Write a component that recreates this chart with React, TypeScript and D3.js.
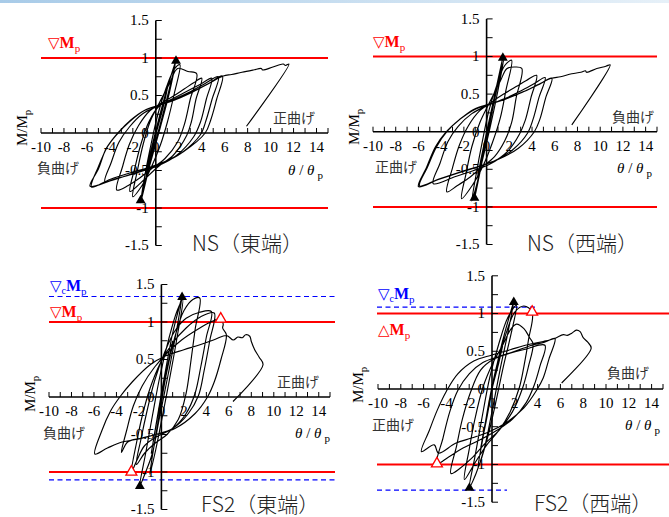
import React from 'react';
import * as d3 from 'd3';

type Pt = [number, number];

// ---------- data (θ/θp , M/Mp) ----------
const xTickLabels = [-10, -8, -6, -4, -2, 0, 2, 4, 6, 8, 10, 12, 14];
const yTickLabels = [1.5, 1, 0.5, 0, -0.5, -1, -1.5];

const nsEastLoop: Pt[] = [
  [0, 0], [0.5, 0.3], [1.0, 0.58],
  [0.6, 0.32], [0, -0.02], [-0.5, -0.32], [-0.9, -0.55],
  [-0.4, -0.22], [0.2, 0.15], [0.9, 0.55], [1.4, 0.8], [1.76, 0.97],
  [1.2, 0.6], [0.5, 0.18], [-0.2, -0.22], [-0.8, -0.6], [-1.32, -0.93],
  [-0.9, -0.62], [-0.2, -0.16], [0.5, 0.3], [1.2, 0.7], [1.7, 0.94],
  [1.2, 0.55], [0.4, 0.08], [-0.4, -0.36], [-1.0, -0.7], [-1.3, -0.9],
  [-0.9, -0.52], [-0.4, -0.14], [0.2, 0.26], [0.9, 0.6], [1.6, 0.85], [2.1, 0.91],
  [1.6, 0.52], [1.0, 0.14], [0.4, -0.16], [-0.4, -0.46], [-1.2, -0.7], [-2.0, -0.85],
  [-1.6, -0.5], [-1.1, -0.15], [-0.5, 0.15], [0.3, 0.4], [1.2, 0.66], [1.9, 0.86], [2.8, 0.82], [3.56, 0.79],
  [3.0, 0.45], [2.5, 0.12], [1.9, -0.12], [0.8, -0.34], [-0.4, -0.48], [-1.4, -0.6], [-2.4, -0.7], [-3.4, -0.76],
  [-2.9, -0.45], [-2.3, -0.15], [-1.5, 0.1], [-0.5, 0.3], [0.5, 0.4], [1.5, 0.49], [2.5, 0.59], [3.3, 0.67], [4.0, 0.73],
  [3.5, 0.45], [3.1, 0.15], [2.7, -0.03], [1.5, -0.3], [0.2, -0.45], [-1.0, -0.62], [-1.7, -0.72], [-2.25, -0.78],
  [-1.8, -0.45], [-1.3, -0.15], [-0.6, 0.15], [0.3, 0.36], [1.5, 0.46], [3.0, 0.58], [4.0, 0.66], [4.87, 0.73],
  [4.4, 0.45], [3.9, 0.15], [3.3, -0.05], [1.8, -0.3], [0.3, -0.43], [-1.0, -0.5], [-2.5, -0.57], [-3.5, -0.61], [-4.43, -0.65],
  [-3.9, -0.4], [-3.2, -0.12], [-2.3, 0.08], [-1.2, 0.25], [0.2, 0.36], [1.6, 0.45], [3.0, 0.55], [4.3, 0.66], [5.45, 0.75],
  [4.9, 0.45], [4.4, 0.18], [3.9, -0.02], [2.2, -0.27], [0.6, -0.4], [-0.8, -0.48], [-2.2, -0.55], [-4.0, -0.64], [-5.73, -0.71],
  [-5.0, -0.48], [-4.3, -0.2], [-3.4, -0.02], [-2.3, 0.15], [-1.0, 0.3], [0.3, 0.37], [1.6, 0.44], [3.2, 0.55], [4.6, 0.66], [5.8, 0.76],
  [5.3, 0.45], [4.8, 0.18], [4.3, 0.0], [2.4, -0.25], [0.8, -0.38], [-0.6, -0.46], [-2.2, -0.53], [-4.0, -0.62], [-5.6, -0.72],
  [-5.0, -0.45], [-4.2, -0.18], [-3.3, 0.0], [-2.2, 0.17], [-1.0, 0.3], [0.3, 0.37], [1.5, 0.43], [3.0, 0.53], [4.5, 0.65], [5.88, 0.76],
  [6.6, 0.78], [7.5, 0.81], [8.5, 0.84], [9.2, 0.86], [9.3, 0.84], [10.2, 0.88], [11.1, 0.92], [11.3, 0.9], [11.6, 0.92],
  [7.9, 0.09],
];

const nsWestLoop: Pt[] = [
  [0, 0], [0.5, 0.32], [0.9, 0.6],
  [0.5, 0.3], [0, -0.02], [-0.4, -0.32], [-0.8, -0.6],
  [-0.3, -0.22], [0.3, 0.2], [0.9, 0.62], [1.43, 0.99],
  [0.9, 0.6], [0.3, 0.15], [-0.3, -0.25], [-0.7, -0.58], [-1.07, -0.9],
  [-0.6, -0.55], [0, -0.1], [0.6, 0.35], [1.1, 0.7], [1.5, 0.95],
  [1.0, 0.55], [0.3, 0.05], [-0.4, -0.4], [-0.9, -0.72], [-1.3, -0.92],
  [-0.9, -0.55], [-0.4, -0.15], [0.2, 0.28], [0.9, 0.62], [1.6, 0.88], [2.2, 0.95],
  [1.7, 0.55], [1.2, 0.18], [0.5, -0.15], [-0.3, -0.45], [-1.2, -0.7], [-2.2, -0.89],
  [-1.8, -0.55], [-1.3, -0.2], [-0.6, 0.12], [0.3, 0.4], [1.2, 0.67], [1.8, 0.84], [2.5, 0.86], [3.1, 0.84],
  [2.6, 0.45], [2.2, 0.12], [1.6, -0.12], [0.7, -0.33], [-0.5, -0.48], [-1.6, -0.62], [-2.6, -0.72], [-3.5, -0.8],
  [-3.0, -0.48], [-2.4, -0.18], [-1.6, 0.08], [-0.6, 0.28], [0.5, 0.4], [1.5, 0.5], [2.6, 0.6], [3.5, 0.68], [4.4, 0.75],
  [3.9, 0.45], [3.4, 0.15], [2.9, -0.03], [1.8, -0.27], [0.3, -0.43], [-1.2, -0.52], [-2.8, -0.6], [-4.7, -0.69],
  [-4.1, -0.42], [-3.4, -0.13], [-2.5, 0.07], [-1.3, 0.24], [0.1, 0.35], [1.6, 0.44], [3.0, 0.54], [4.2, 0.64], [5.15, 0.72],
  [4.6, 0.45], [4.1, 0.17], [3.6, -0.02], [2.3, -0.24], [0.8, -0.38], [-0.8, -0.47], [-2.5, -0.55], [-4.3, -0.64], [-6.0, -0.73],
  [-5.3, -0.48], [-4.5, -0.2], [-3.6, -0.01], [-2.4, 0.16], [-1.1, 0.3], [0.3, 0.37], [1.6, 0.43], [3.1, 0.52], [4.5, 0.62], [5.74, 0.71],
  [5.2, 0.45], [4.7, 0.17], [4.2, 0.0], [2.8, -0.22], [1.0, -0.37], [-0.7, -0.46], [-2.4, -0.54], [-4.2, -0.63], [-5.9, -0.72],
  [-5.2, -0.47], [-4.4, -0.2], [-3.5, 0.0], [-2.3, 0.17], [-1.0, 0.3], [0.4, 0.37], [1.7, 0.44], [3.2, 0.53], [4.6, 0.63], [5.7, 0.71],
  [6.5, 0.73], [7.5, 0.77], [8.3, 0.79], [8.7, 0.81], [8.8, 0.79], [9.7, 0.84], [10.5, 0.87], [10.88, 0.89],
  [7.5, 0.09],
];

const fs2EastLoop: Pt[] = [
  [0, 0], [0.5, 0.38], [1.0, 0.75], [0.6, 0.42], [0, 0], [-0.5, -0.4], [-0.9, -0.75],
  [-0.4, -0.3], [0.3, 0.3], [1.0, 0.85], [1.5, 1.15], [1.84, 1.34],
  [1.3, 0.85], [0.6, 0.3], [-0.2, -0.3], [-0.8, -0.75], [-1.4, -1.0], [-1.92, -1.18],
  [-1.4, -0.75], [-0.8, -0.25], [-0.1, 0.3], [0.7, 0.8], [1.4, 1.15], [1.9, 1.3],
  [1.4, 0.8], [0.8, 0.3], [0.1, -0.25], [-0.5, -0.7], [-1.03, -1.03],
  [-0.6, -0.6], [-0.1, -0.15], [0.5, 0.35], [1.2, 0.8], [2.0, 1.15], [2.8, 1.3], [3.41, 1.32],
  [3.0, 0.9], [2.6, 0.45], [2.2, 0.05], [1.5, -0.3], [0.5, -0.5], [-0.6, -0.62], [-1.5, -0.75], [-2.22, -0.9],
  [-1.8, -0.55], [-1.3, -0.2], [-0.6, 0.22], [0.3, 0.6], [1.2, 0.88], [2.2, 1.05], [3.4, 1.13], [4.44, 1.14],
  [4.0, 0.8], [3.5, 0.4], [3.0, 0.05], [2.2, -0.22], [1.0, -0.42], [-0.3, -0.52], [-1.5, -0.65], [-2.2, -0.85], [-2.67, -1.0],
  [-2.2, -0.6], [-1.7, -0.25], [-1.0, 0.12], [-0.1, 0.45], [1.0, 0.72], [2.2, 0.92], [3.5, 1.07], [4.7, 1.12],
  [4.3, 0.75], [3.8, 0.35], [3.3, 0.02], [2.4, -0.22], [1.0, -0.42], [-0.5, -0.5], [-1.8, -0.55], [-3.0, -0.6], [-3.56, -0.74],
  [-3.1, -0.45], [-2.5, -0.12], [-1.7, 0.15], [-0.6, 0.4], [0.6, 0.6], [1.8, 0.76], [3.2, 0.9], [4.4, 1.0], [5.28, 1.04],
  [5.5, 0.97], [5.45, 0.92], [5.78, 0.83],
  [5.3, 0.5], [4.7, 0.2], [4.1, 0.0], [3.0, -0.22], [1.2, -0.42], [-0.5, -0.5], [-2.0, -0.56], [-3.5, -0.6], [-4.8, -0.68], [-5.92, -0.76],
  [-5.3, -0.45], [-4.5, -0.18], [-3.7, 0.0], [-2.6, 0.2], [-1.0, 0.43], [0.4, 0.55], [2.0, 0.63], [3.5, 0.7], [4.8, 0.77], [5.8, 0.82],
  [6.4, 0.76], [6.8, 0.8], [7.2, 0.79], [7.5, 0.83], [7.86, 0.81], [8.0, 0.74], [8.3, 0.63], [8.7, 0.53], [9.04, 0.43],
  [6.37, -0.06],
];

const fs2WestLoop: Pt[] = [
  [0, 0], [0.5, 0.32], [1.0, 0.62], [0.6, 0.35], [0, 0], [-0.5, -0.38], [-1.0, -0.78],
  [-0.5, -0.42], [0.2, 0.15], [0.9, 0.62], [1.5, 0.95], [1.91, 1.16],
  [1.4, 0.75], [0.7, 0.25], [0, -0.3], [-0.7, -0.8], [-1.4, -1.12], [-1.98, -1.3],
  [-1.5, -0.9], [-0.9, -0.4], [-0.2, 0.15], [0.6, 0.6], [1.4, 0.95], [2.14, 1.11],
  [1.7, 0.75], [1.0, 0.3], [0.3, -0.2], [-0.4, -0.65], [-1.24, -1.05],
  [-0.8, -0.65], [-0.3, -0.2], [0.4, 0.3], [1.2, 0.72], [2.0, 1.02], [2.8, 1.1], [3.52, 1.02],
  [3.2, 0.65], [2.8, 0.3], [2.4, 0.02], [1.6, -0.3], [0.6, -0.55], [-0.5, -0.75], [-1.5, -0.98], [-2.42, -1.2],
  [-2.0, -0.8], [-1.5, -0.4], [-0.8, 0.02], [0.1, 0.35], [1.0, 0.6], [1.6, 0.78], [2.14, 0.86], [2.8, 0.8], [3.3, 0.68], [3.6, 0.6],
  [3.2, 0.3], [2.7, 0.02], [1.8, -0.3], [0.6, -0.55], [-0.6, -0.72], [-1.8, -0.92], [-2.8, -1.05], [-3.6, -1.12],
  [-3.1, -0.75], [-2.6, -0.4], [-1.9, -0.05], [-1.0, 0.25], [0.2, 0.4], [1.5, 0.47], [3.0, 0.53], [4.64, 0.58],
  [4.2, 0.3], [3.7, 0.05], [3.0, -0.18], [1.8, -0.4], [0.4, -0.55], [-1.0, -0.67], [-2.5, -0.78], [-3.8, -0.9], [-4.83, -0.99],
  [-4.3, -0.65], [-3.7, -0.3], [-3.0, -0.02], [-2.0, 0.2], [-0.8, 0.35], [0.6, 0.43], [2.0, 0.5], [3.5, 0.58], [4.6, 0.62], [5.52, 0.67],
  [5.0, 0.4], [4.5, 0.15], [3.9, -0.02], [2.8, -0.25], [1.2, -0.45], [-0.3, -0.57], [-1.8, -0.65], [-3.2, -0.72], [-4.7, -0.85], [-5.07, -0.74], [-6.19, -0.83],
  [-5.5, -0.55], [-4.8, -0.28], [-4.0, -0.03], [-3.0, 0.2], [-1.6, 0.37], [0.0, 0.45], [1.6, 0.52], [3.2, 0.59], [4.5, 0.63], [5.5, 0.67],
  [6.26, 0.72], [6.6, 0.71], [7.0, 0.74], [7.4, 0.78], [7.73, 0.76], [8.0, 0.68], [8.4, 0.62], [8.7, 0.54],
  [6.11, 0.08],
];

const nsEastTri: Pt[] = [[1.76, 0.96], [-1.32, -0.9]];
const nsWestTri: Pt[] = [[1.43, 0.98], [-1.07, -0.88]];
const fs2EastTri: Pt[] = [[1.84, 1.33], [-1.92, -1.19]];
const fs2WestTri: Pt[] = [[1.91, 1.15], [-1.98, -1.31]];
const fs2EastOpenTri: Pt[] = [[5.28, 1.04], [-2.67, -1.0]];
const fs2WestOpenTri: Pt[] = [[3.52, 1.02], [-4.83, -0.99]];

const mpLevels = [1, -1];
const fs2EastCmp = [1.34, -1.105];
const fs2WestCmp = [1.085, -1.34];

const panelTitles = ['NS（東端）', 'NS（西端）', 'FS2（東端）', 'FS2（西端）'];
const rightLabels = ['正曲げ', '負曲げ', '正曲げ', '負曲げ'];
const leftLabels = ['負曲げ', '正曲げ', '負曲げ', '正曲げ'];

// ---------- layout ----------
interface Layout {
  x0: number; x1: number; yTop: number; yBot: number;
  mpExt: [number, number];
  cmpExt?: [number, number][];
  right: [number, number]; left: [number, number]; theta: [number, number];
  title: [number, number]; yLab: [number, number];
  mpLab: [number, number]; cmpLab?: [number, number];
}

const layouts: Layout[] = [
  { x0: 41, x1: 328, yTop: 20.5, yBot: 245.5, mpExt: [41, 328],
    right: [273, 123], left: [37, 173], theta: [288, 175], title: [192, 251], yLab: [27, 146], mpLab: [48, 48] },
  { x0: 373, x1: 657, yTop: 18.9, yBot: 244.5, mpExt: [373, 657],
    right: [612, 122], left: [375, 172], theta: [617, 173], title: [527, 251], yLab: [359, 145], mpLab: [373, 47] },
  { x0: 49, x1: 330, yTop: 284.5, yBot: 509.5, mpExt: [49, 335], cmpExt: [[49, 335], [49, 335]],
    right: [277, 387], left: [43, 438], theta: [295, 438], title: [201, 512], yLab: [35, 412], mpLab: [50, 317], cmpLab: [50, 291] },
  { x0: 378, x1: 663, yTop: 275.8, yBot: 502.2, mpExt: [377, 669], cmpExt: [[377, 535], [377, 507]],
    right: [607, 378], left: [372, 430], theta: [625, 430], title: [534, 511], yLab: [363, 403], mpLab: [378, 335], cmpLab: [378, 299] },
];

const SERIF = '"Liberation Serif", "Times New Roman", serif';
const SANS = '"Noto Sans CJK JP", "Noto Sans", sans-serif';
const SYM = '"DejaVu Sans", sans-serif';

interface PanelProps {
  idx: number;
  loop: Pt[];
  tri: Pt[];
  openTri?: Pt[];
  cmp?: number[];
  mpSymbol: string;
}

function Panel({ idx, loop, tri, openTri, cmp, mpSymbol }: PanelProps) {
  const L = layouts[idx];
  const x = d3.scaleLinear().domain([-10, 15]).range([L.x0, L.x1]);
  const y = d3.scaleLinear().domain([-1.5, 1.5]).range([L.yBot, L.yTop]);
  const line = d3.line<Pt>().x(d => x(d[0])).y(d => y(d[1])).curve(d3.curveCatmullRom.alpha(0.5));
  const ax = x(0);
  const ay = y(0);
  const xMinor = x.ticks(25);
  const yMinor = d3.range(-6, 7).map(k => k * 0.25);
  const triPath = d3.symbol().type(d3.symbolTriangle).size(42)() as string;
  const openPath = d3.symbol().type(d3.symbolTriangle).size(52)() as string;

  return (
    <g>
      {mpLevels.map((v, i) => (
        <line key={'mp' + i} x1={L.mpExt[0]} x2={L.mpExt[1]} y1={y(v)} y2={y(v)} stroke="#ff0000" strokeWidth={2} />
      ))}
      {cmp && L.cmpExt && cmp.map((v, i) => (
        <line key={'cmp' + i} x1={L.cmpExt![i][0]} x2={L.cmpExt![i][1]} y1={y(v)} y2={y(v)}
          stroke="#0000ff" strokeWidth={1.2} strokeDasharray="5,3.5" />
      ))}

      <line x1={x(-10)} x2={x(15)} y1={ay} y2={ay} stroke="#000" strokeWidth={1.6} />
      {xMinor.map(t => (
        <line key={'xt' + t} x1={x(t)} x2={x(t)} y1={ay} y2={ay - 5} stroke="#000" strokeWidth={1} />
      ))}
      <line x1={ax} x2={ax} y1={y(-1.5)} y2={y(1.5)} stroke="#000" strokeWidth={1.6} />
      {yMinor.map(t => (
        <line key={'yt' + t} x1={ax} x2={ax + 6} y1={y(t)} y2={y(t)} stroke="#000" strokeWidth={1} />
      ))}
      {xTickLabels.map(t => (
        <text key={'xl' + t} x={x(t)} y={ay + 19} textAnchor="middle" fontFamily={SERIF} fontSize={15} fill="#000">{t}</text>
      ))}
      {yTickLabels.map(t => (
        <text key={'yl' + t} x={ax - 7} y={y(t)} dy="0.33em" textAnchor="end" fontFamily={SERIF} fontSize={15} fill="#000">{t}</text>
      ))}

      <path d={line(loop) as string} fill="none" stroke="#000" strokeWidth={1.15} strokeLinejoin="round" />

      {tri.map((p, i) => (
        <path key={'tr' + i} d={triPath} transform={`translate(${x(p[0])},${y(p[1])})`} fill="#000" />
      ))}
      {openTri && openTri.map((p, i) => (
        <path key={'ot' + i} d={openPath} transform={`translate(${x(p[0])},${y(p[1])})`} fill="#fff" stroke="#ff0000" strokeWidth={1.3} />
      ))}

      <text x={L.right[0]} y={L.right[1]} fontFamily={SANS} fontSize={14} fill="#333">{rightLabels[idx]}</text>
      <text x={L.left[0]} y={L.left[1]} fontFamily={SANS} fontSize={14} fill="#333">{leftLabels[idx]}</text>
      <text x={L.theta[0]} y={L.theta[1]} fontFamily={SERIF} fontSize={15} fill="#000">
        <tspan fontStyle="italic">θ</tspan> / <tspan fontStyle="italic">θ</tspan>
        <tspan fontSize={11} dy={4} dx={3}>p</tspan>
      </text>
      <text transform={`translate(${L.yLab[0]},${L.yLab[1]}) rotate(-90)`} fontFamily={SERIF} fontSize={15} fill="#000">
        M/M<tspan fontSize={11} dy={4}>p</tspan>
      </text>
      <text x={L.title[0]} y={L.title[1]} fontFamily={SANS} fontSize={21} fontWeight={300} fill="#222">{panelTitles[idx]}</text>

      <text x={L.mpLab[0]} y={L.mpLab[1]} fontFamily={SERIF} fontSize={16} fill="#ff0000">
        <tspan fontFamily={SYM} fontSize={15}>{mpSymbol}</tspan>
        <tspan fontWeight={600}>M</tspan>
        <tspan fontSize={11} dy={4}>p</tspan>
      </text>
      {L.cmpLab && (
        <text x={L.cmpLab[0]} y={L.cmpLab[1]} fontFamily={SERIF} fontSize={16} fill="#0000ff">
          <tspan fontFamily={SYM} fontSize={15}>▽</tspan>
          <tspan fontSize={10} dy={3}>c</tspan>
          <tspan fontWeight={600} dy={-3}>M</tspan>
          <tspan fontSize={11} dy={4}>p</tspan>
        </text>
      )}
    </g>
  );
}

export default function App() {
  return (
    <svg width={669} height={517} viewBox="0 0 669 517"
      style={{ position: 'absolute', left: 0, top: 0, background: '#fff' }}>
      <defs>
        <linearGradient id="topband" x1="0" x2="1" y1="0" y2="0">
          <stop offset="0" stopColor="#a8cbe8" />
          <stop offset="1" stopColor="#e6f0f8" />
        </linearGradient>
      </defs>
      <rect x={0} y={0} width={669} height={517} fill="#fff" />
      <rect x={0} y={0} width={669} height={3} fill="url(#topband)" />
      <Panel idx={0} loop={nsEastLoop} tri={nsEastTri} mpSymbol="▽" />
      <Panel idx={1} loop={nsWestLoop} tri={nsWestTri} mpSymbol="▽" />
      <Panel idx={2} loop={fs2EastLoop} tri={fs2EastTri} openTri={fs2EastOpenTri} cmp={fs2EastCmp} mpSymbol="▽" />
      <Panel idx={3} loop={fs2WestLoop} tri={fs2WestTri} openTri={fs2WestOpenTri} cmp={fs2WestCmp} mpSymbol="△" />
    </svg>
  );
}
